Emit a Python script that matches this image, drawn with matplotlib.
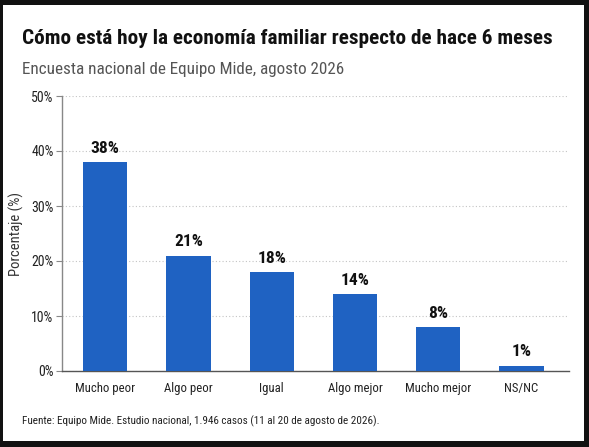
import matplotlib
matplotlib.use("Agg")
import matplotlib.pyplot as plt
from matplotlib.patches import Rectangle

# ================= DATA =================
categories = ["Mucho peor", "Algo peor", "Igual", "Algo mejor", "Mucho mejor", "NS/NC"]
values = [38, 21, 18, 14, 8, 1]
yticks = [0, 10, 20, 30, 40, 50]

TITLE = "Cómo está hoy la economía familiar respecto de hace 6 meses"
SUBTITLE = "Encuesta nacional de Equipo Mide, agosto 2026"
FOOTER = "Fuente: Equipo Mide. Estudio nacional, 1.946 casos (11 al 20 de agosto de 2026)."

BAR_COLOR = "#1f62c2"
FONTS = ["Liberation Sans Narrow", "Roboto Condensed", "Roboto", "DejaVu Sans"]
plt.rcParams["font.family"] = FONTS

# ================= FIGURE =================
W, H = 589, 447
fig = plt.figure(figsize=(W / 100, H / 100), dpi=100, facecolor="#111111")
fig.patches.append(Rectangle((3 / W, 6 / H), 581 / W, 436 / H, transform=fig.transFigure,
                             facecolor="white", edgecolor="none", zorder=-10))

ax = fig.add_axes([62 / W, (H - 371) / H, (569 - 62) / W, (371 - 96) / H])
ax.set_facecolor("white")
ax.set_zorder(2)

x = list(range(len(categories)))
ax.bar(x, values, width=0.53, color=BAR_COLOR, zorder=3)
for xi, v in zip(x, values):
    ax.text(xi, v + 1.1, f"{v}%", ha="center", va="bottom",
            fontsize=12.5, fontweight="bold", color="#111111")

ax.set_xlim(-0.52, 5.57)
ax.set_ylim(0, 50)
ax.set_yticks(yticks)
ax.set_yticklabels([f"{t}%" for t in yticks])
ax.set_xticks(x)
ax.set_xticklabels(categories)
ax.tick_params(axis="x", length=0, pad=8, labelsize=9.2, colors="#222222")
ax.tick_params(axis="y", length=4, width=0.8, color="#888888", pad=2, labelsize=10,
               labelcolor="#222222")
ax.grid(axis="y", linestyle=(0, (1, 2)), color="#c4c4c4", linewidth=0.8, zorder=0)
ax.set_axisbelow(True)

for s in ["top", "right"]:
    ax.spines[s].set_visible(False)
ax.spines["left"].set_color("#888888")
ax.spines["left"].set_linewidth(1.0)
ax.spines["bottom"].set_color("#555555")
ax.spines["bottom"].set_linewidth(1.0)

ax.set_ylabel("Porcentaje (%)", fontsize=10.5, color="#333333", labelpad=5)

# ================= TEXTS =================
fig.text(22 / W, 1 - 44 / H, TITLE, fontsize=15.3, fontweight="bold", color="#111111",
         ha="left", va="baseline")
fig.text(22 / W, 1 - 74 / H, SUBTITLE, fontsize=12.3, color="#555555",
         ha="left", va="baseline")
fig.text(22 / W, 1 - 421 / H, FOOTER, fontsize=8.0, color="#222222",
         ha="left", va="center")

fig.savefig("out.png", dpi=100, facecolor=fig.get_facecolor())
